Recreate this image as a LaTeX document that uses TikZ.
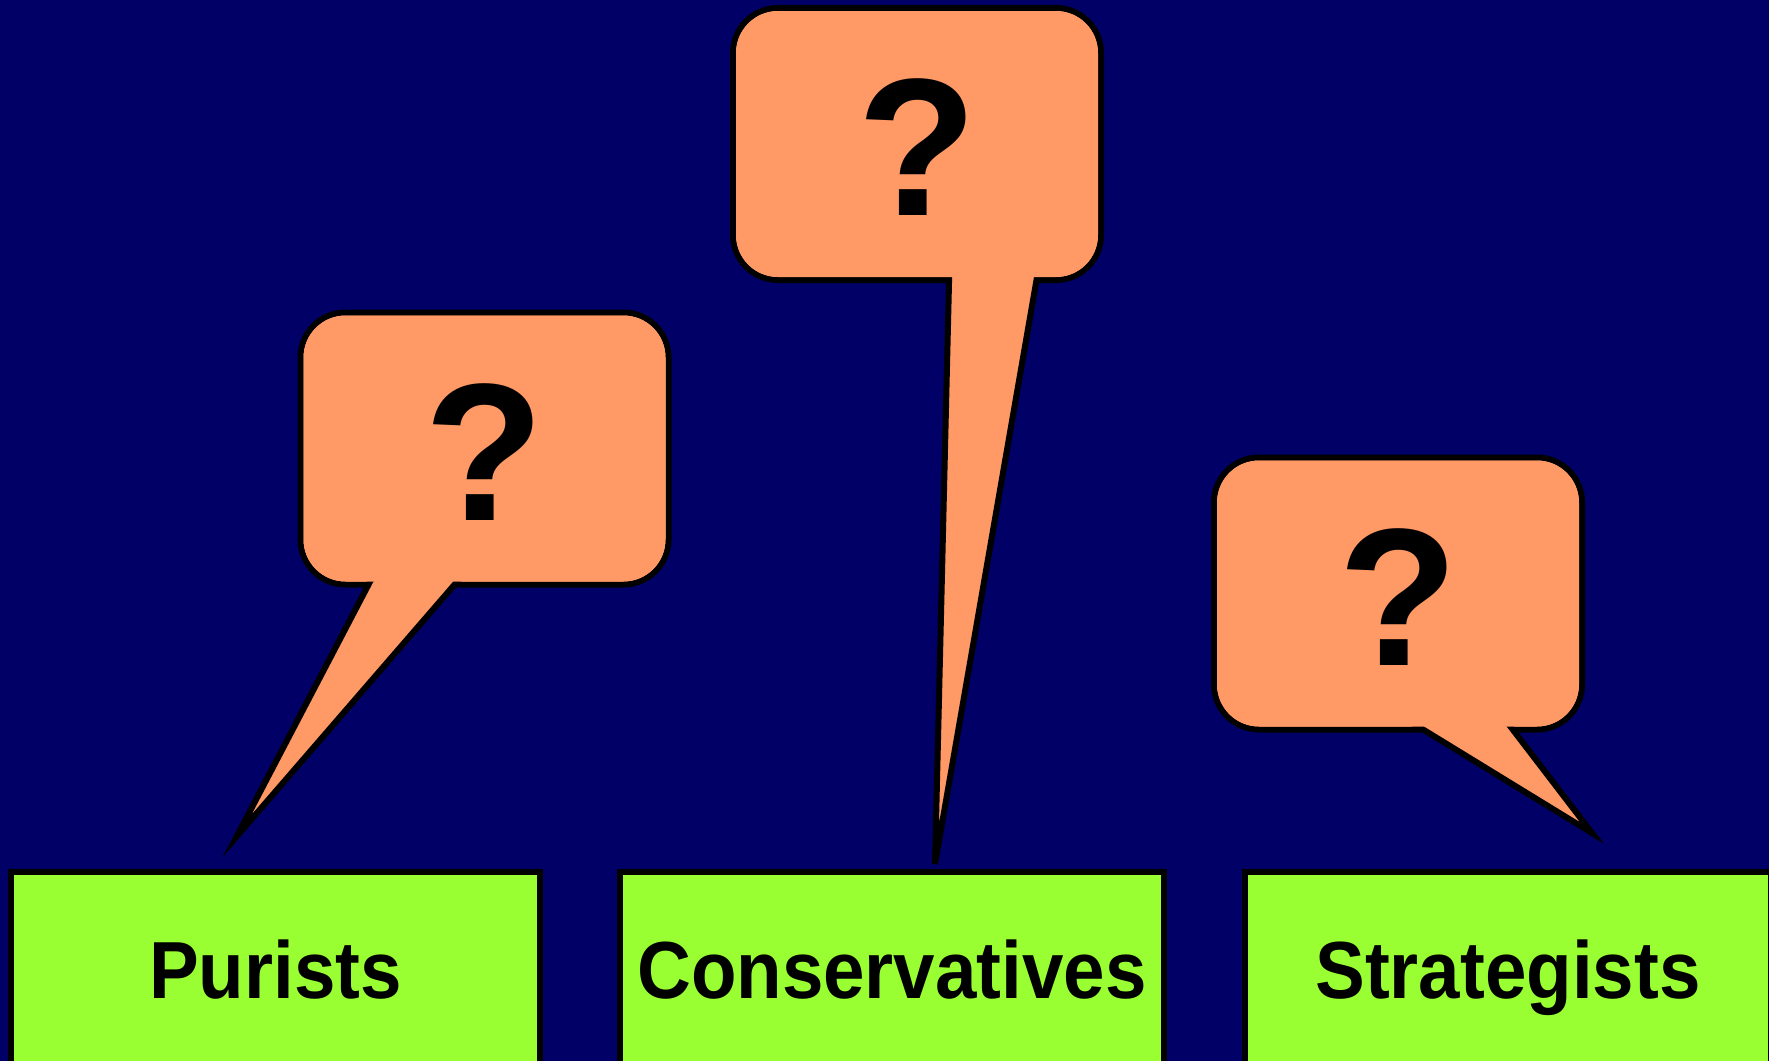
\documentclass[tikz,border=0pt]{standalone}
\usepackage{fontspec}
\setmainfont{Liberation Sans}
\newfontfamily\labelfont[FakeStretch=0.92]{Liberation Sans}
\usetikzlibrary{calc}
\definecolor{navy}{RGB}{0,0,102}
\definecolor{salmon}{RGB}{255,153,102}
\definecolor{lime}{RGB}{153,255,51}
\tikzset{
  bubble/.style={rectangle, rounded corners=22.5pt, draw=black, line width=3pt,
    fill=salmon, minimum width=184pt, minimum height=136pt, inner sep=0pt},
  bubblefill/.style={rectangle, rounded corners=21pt, fill=salmon,
    minimum width=181pt, minimum height=133pt, inner sep=0pt,
    font=\fontsize{98}{100}\selectfont\bfseries, text height=71.5pt, text depth=0pt},
  tail/.style={draw=black, line width=3pt, fill=salmon, line join=miter},
  group/.style={rectangle, draw=black, line width=3pt, fill=lime, inner sep=0pt,
    minimum height=97pt, font=\labelfont\bfseries\fontsize{40.5}{48}\selectfont,
    text height=29pt, text depth=0pt},
}
\begin{document}
\begin{tikzpicture}[x=0.5pt,y=-0.5pt]
\useasboundingbox (0,0) rectangle (1769,1061);
\fill[navy] (0,0) rectangle (1769,1061);
\clip (0,0) rectangle (1769,1061);

% group boxes
\node[group, minimum width=264.5pt] (purists) at (275.5,969) {Purists};
\node[group, minimum width=272pt] (cons) at (892,969) {Conservatives};
\node[group, minimum width=263pt] (strat) at (1508,969) {Strategists};

% callout 1
\node[bubble] (c1) at (484.5,448.5) {};
\coordinate (t1) at (237,836);
\coordinate (l1) at ([xshift=-58.75pt]c1.south);
\coordinate (r1) at ([xshift=-16.25pt]c1.south);
\filldraw[tail] ($(t1)!1.15!(l1)$) -- (t1) -- ($(t1)!1.15!(r1)$) -- cycle;
\node[bubblefill] (q1) at (c1.center) {?};

% callout 2
\node[bubble] (c2) at (917,144) {};
\coordinate (t2) at (935,864);
\coordinate (l2) at ([xshift=16pt]c2.south);
\coordinate (r2) at ([xshift=59.5pt]c2.south);
\filldraw[tail] ($(t2)!1.15!(l2)$) -- (t2) -- ($(t2)!1.15!(r2)$) -- cycle;
\node[bubblefill] (q2) at (c2.center) {?};

% callout 3
\node[bubble] (c3) at (1398,593.5) {};
\coordinate (t3) at (1592,833);
\coordinate (l3) at ([xshift=15pt]c3.south);
\coordinate (r3) at ([xshift=58.5pt]c3.south);
\filldraw[tail] ($(t3)!1.15!(l3)$) -- (t3) -- ($(t3)!1.15!(r3)$) -- cycle;
\node[bubblefill] (q3) at (c3.center) {?};
\end{tikzpicture}
\end{document}
